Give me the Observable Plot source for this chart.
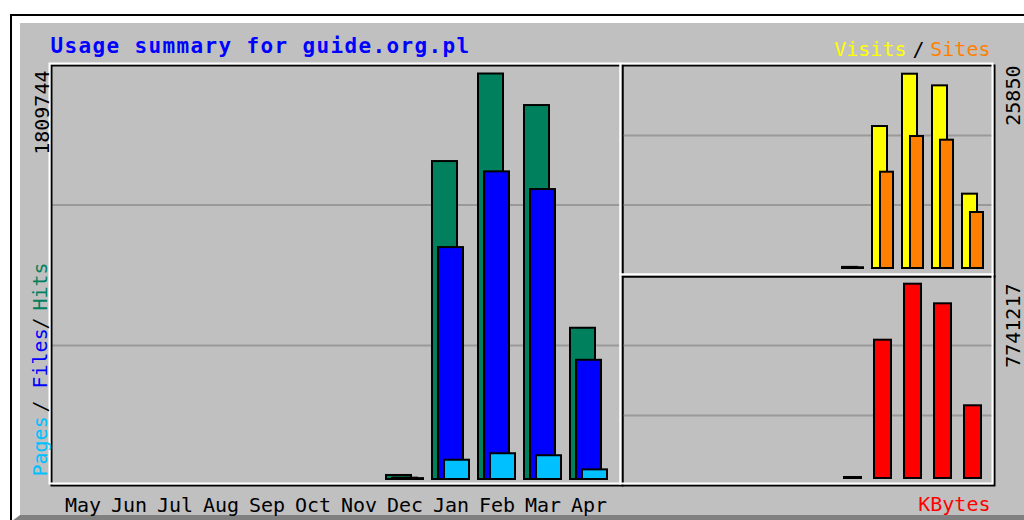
<!DOCTYPE html>
<html><head><meta charset="utf-8">
<script src="https://cdn.jsdelivr.net/npm/d3@7"></script>
<script src="https://cdn.jsdelivr.net/npm/@observablehq/plot@0.6"></script>
<style>
html,body{margin:0;padding:0;background:#fff;}
#wrap{position:relative;width:1024px;height:520px;overflow:hidden;background:#fff;}
#outer{position:absolute;left:10px;top:14px;width:1100px;height:520px;border-top:2px solid #000;border-left:2px solid #000;}
#inner{border-top:7px solid #fff;border-left:8px solid #fff;border-bottom:6px solid #808080;background:#c0c0c0;height:492px;}
#wrap svg{position:absolute;left:0;top:0;}
</style></head>
<body><div id="wrap"><div id="outer"><div id="inner"></div></div></div>
<script>
const title = "Usage summary for guide.org.pl";
const months = ["May","Jun","Jul","Aug","Sep","Oct","Nov","Dec","Jan","Feb","Mar","Apr"];
const hits   = [0,0,0,0,0,0,0,18000,1419000,1809744,1669000,675000];
const files  = [0,0,0,0,0,0,0,6000,1035000,1373000,1294000,532000];
const pages  = [0,0,0,0,0,0,0,4000,86000,115000,106000,43000];
const visits = [0,0,0,0,0,0,0,150,18890,25850,24300,9890];
const sites  = [0,0,0,0,0,0,0,100,12810,17560,17070,7450];
const kbytes = [0,0,0,0,0,0,0,40000,5510000,7741217,6960000,2897000];

const rows = months.map((m,i)=>({month:m,hits:hits[i],files:files[i],pages:pages[i],visits:visits[i],sites:sites[i],kbytes:kbytes[i]}));

const FONT = "DejaVu Sans Mono, monospace";
const GREEN="#00805c", BLUE="#0000ff", CYAN="#00c0ff", YELLOW="#ffff00", ORANGE="#ff8000", RED="#ff0000";
const GRID="#999999";

function inv(s, px){ return s.domain[0] + (px - s.range[0])/(s.range[1]-s.range[0])*(s.domain[1]-s.domain[0]); }
const bar = (key, fill, il, ir) => Plot.barY(rows.filter(d=>d[key]>0), {x:"month", y:key, fill, stroke:"#000", strokeWidth:2, insetLeft:il, insetRight:ir});
const frames = () => [
  Plot.frame({stroke:"#000", strokeWidth:2}),
  Plot.frame({stroke:"#fff", strokeWidth:2, insetLeft:-2, insetTop:-2, insetRight:2, insetBottom:2})
];
const small = {fontSize:20, fontFamily:FONT};
const lbl = (txt, fill, o) => Plot.text([txt], {text:d=>String(d), fill, ...small, lineAnchor:"bottom", ...o});

const leftY = {domain:[0, d3.max(hits)], range:[479, 73.5]};
const rtY = {domain:[0, d3.max(visits)], range:[268, 73.7]};
const rbY = {domain:[0, d3.max(kbytes)], range:[478, 283.7]};
const common = {width:1024, height:520, style:{background:"transparent", overflow:"visible"}};

const left = Plot.plot({
  ...common,
  marginLeft:51, marginTop:65, marginRight:402, marginBottom:35,
  x:{type:"band", domain:months, range:[59.5,611.5], padding:0, round:false, axis:null},
  y:{...leftY, axis:null},
  marks:[
    Plot.ruleY([inv(leftY,204.5), inv(leftY,345)], {stroke:GRID, strokeWidth:2}),
    bar("hits", GREEN, 4.5, 16.5),
    bar("files", BLUE, 10.5, 10.5),
    bar("pages", CYAN, 16.5, 4.5),
    ...frames(),
    Plot.text(months, {x:d=>d, text:d=>d, frameAnchor:"bottom", dy:26, lineAnchor:"bottom", fill:"#000", ...small}),
    Plot.text([title], {text:d=>d, frameAnchor:"top-left", dx:-1, dy:-13, textAnchor:"start", lineAnchor:"bottom", fill:BLUE, fontSize:21, fontWeight:"bold", fontFamily:FONT}),
    lbl(d3.max(hits), "#000", {frameAnchor:"top-left", rotate:-90, textAnchor:"end", dx:-3, dy:5}),
    lbl("Pages", CYAN, {frameAnchor:"bottom-left", rotate:-90, textAnchor:"start", dx:-5, dy:-9}),
    lbl("/", "#000", {frameAnchor:"bottom-left", rotate:-90, textAnchor:"middle", dx:-5, dy:-79}),
    lbl("Files", BLUE, {frameAnchor:"bottom-left", rotate:-90, textAnchor:"start", dx:-5, dy:-97}),
    lbl("/", "#000", {frameAnchor:"bottom-left", rotate:-90, textAnchor:"middle", dx:-5, dy:-162}),
    lbl("Hits", GREEN, {frameAnchor:"bottom-left", rotate:-90, textAnchor:"start", dx:-5, dy:-175})
  ]
});
left.querySelectorAll("text").forEach(t=>{ if(t.textContent===title) t.setAttribute("letter-spacing","1.36"); });

const rightTop = Plot.plot({
  ...common,
  marginLeft:622, marginTop:65, marginRight:30, marginBottom:244,
  x:{type:"band", domain:months, range:[627.5,987.5], padding:0, round:false, axis:null},
  y:{...rtY, axis:null},
  marks:[
    Plot.ruleY([inv(rtY,135), inv(rtY,204.5)], {stroke:GRID, strokeWidth:2}),
    bar("visits", YELLOW, 4.5, 10.5),
    bar("sites", ORANGE, 12.5, 4.5),
    ...frames(),
    lbl(d3.max(visits), "#000", {frameAnchor:"top-right", rotate:-90, textAnchor:"end", dx:25, dy:0}),
    lbl("Sites", ORANGE, {frameAnchor:"top-right", textAnchor:"end", dx:-4, dy:-10}),
    lbl("/", "#000", {frameAnchor:"top-right", textAnchor:"middle", dx:-76, dy:-10}),
    lbl("Visits", YELLOW, {frameAnchor:"top-right", textAnchor:"end", dx:-88, dy:-10})
  ]
});

const rightBottom = Plot.plot({
  ...common,
  marginLeft:622, marginTop:276, marginRight:30, marginBottom:35,
  x:{type:"band", domain:months, range:[627.5,987.5], padding:0, round:false, axis:null},
  y:{...rbY, axis:null},
  marks:[
    Plot.ruleY([inv(rbY,345), inv(rbY,415)], {stroke:GRID, strokeWidth:2}),
    bar("kbytes", RED, 6.5, 6.5),
    ...frames(),
    lbl(d3.max(kbytes), "#000", {frameAnchor:"top-right", rotate:-90, textAnchor:"end", dx:25, dy:7}),
    lbl("KBytes", RED, {frameAnchor:"bottom-right", textAnchor:"end", dx:-4, dy:25})
  ]
});

const wrap = document.getElementById("wrap");
wrap.appendChild(left);
wrap.appendChild(rightTop);
wrap.appendChild(rightBottom);
</script>
</body></html>
